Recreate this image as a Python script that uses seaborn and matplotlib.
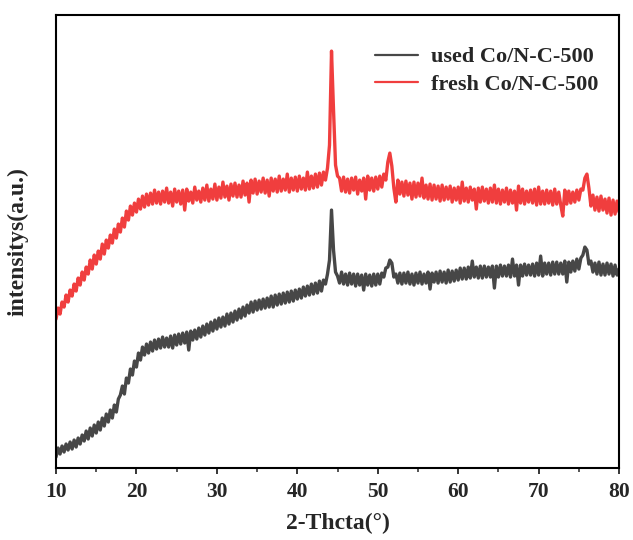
import numpy as np
import pandas as pd
import matplotlib
matplotlib.use("Agg")
import matplotlib.pyplot as plt
import seaborn as sns

# 2-theta grid: 10 to 80 deg, 0.25 deg step (4 points per degree row below)
two_theta = np.arange(10, 80.001, 0.25)

# fresh Co/N-C-500 (arbitrary units)
fresh = [
    221, 232, 226, 238,  233, 245, 238, 250,  244, 256, 249, 262,  255, 268, 260, 273,  # 10-13
    266, 280, 271, 285,  276, 289, 281, 296,  286, 300, 292, 305,  297, 311, 302, 316,  # 14-17
    308, 322, 313, 329,  320, 334, 325, 337,  328, 341, 331, 344,  333, 346, 335, 347,  # 18-21
    336, 350, 337, 348,  336, 349, 338, 352,  337, 348, 334, 351,  338, 349, 336, 350,  # 22-25
    330, 351, 339, 348,  337, 353, 340, 349,  338, 352, 340, 355,  339, 351, 341, 356,  # 26-29
    340, 353, 342, 358,  343, 354, 340, 356,  344, 357, 343, 355,  343, 359, 345, 357,  # 30-33
    338, 360, 347, 361,  346, 359, 348, 362,  347, 360, 344, 362,  349, 361, 348, 364,  # 34-37
    349, 361, 350, 366,  348, 362, 350, 363,  349, 364, 351, 362,  350, 368, 351, 364,  # 38-41
    352, 366, 353, 367,  355, 368, 360, 372,  395, 489, 430, 375,  364, 362, 349, 363,  # 42-45
    348, 361, 347, 362,  350, 363, 346, 360,  349, 362, 341, 364,  350, 362, 349, 363,  # 46-49
    351, 364, 353, 366,  360, 378, 387, 374,  352, 338, 360, 346,  358, 344, 359, 345,  # 50-53
    357, 341, 358, 343,  357, 344, 362, 342,  355, 341, 356, 340,  355, 341, 354, 339,  # 54-57
    355, 340, 353, 341,  354, 338, 352, 340,  353, 337, 358, 339,  352, 338, 353, 340,  # 58-61
    351, 331, 352, 338,  353, 339, 351, 337,  352, 338, 355, 337,  351, 336, 350, 338,  # 62-65
    352, 336, 350, 337,  349, 330, 354, 337,  351, 336, 349, 338,  350, 337, 351, 335,  # 66-69
    353, 336, 349, 336,  350, 337, 349, 335,  351, 336, 348, 335,  324, 350, 336, 349,  # 70-73
    337, 348, 338, 350,  340, 351, 350, 362,  366, 352, 334, 345,  330, 343, 329, 344,  # 74-77
    330, 341, 327, 342,  325, 340, 326, 339,  328,                                      # 78-80
]

# used Co/N-C-500
used = [
    83, 92, 86, 94,      88, 96, 90, 98,      91, 100, 93, 102,    96, 105, 99, 109,    # 10-13
    101, 112, 104, 115,  107, 118, 110, 122,  114, 126, 118, 130,  122, 135, 128, 141,  # 14-17
    145, 154, 146, 162,  157, 171, 165, 179,  173, 187, 180, 193,  185, 196, 187, 198,  # 18-21
    189, 200, 191, 201,  192, 203, 193, 202,  193, 204, 192, 205,  195, 206, 196, 207,  # 22-25
    197, 208, 190, 209,  200, 210, 201, 212,  203, 214, 205, 216,  207, 218, 209, 220,  # 26-29
    211, 222, 213, 223,  214, 226, 216, 227,  218, 229, 220, 231,  222, 233, 224, 235,  # 30-33
    227, 238, 228, 239,  230, 240, 231, 241,  232, 242, 233, 244,  233, 245, 235, 246,  # 34-37
    236, 247, 237, 248,  238, 249, 239, 250,  241, 251, 242, 253,  244, 254, 245, 256,  # 38-41
    246, 257, 247, 259,  249, 260, 256, 266,  280, 330, 290, 268,  264, 257, 268, 256,  # 42-45
    266, 255, 267, 256,  266, 254, 266, 255,  265, 250, 266, 255,  265, 254, 266, 255,  # 46-49
    266, 256, 267, 263,  272, 273, 280, 277,  263, 266, 257, 267,  256, 267, 257, 268,  # 50-53
    256, 266, 255, 267,  257, 268, 256, 266,  257, 268, 251, 267,  258, 268, 257, 269,  # 54-57
    258, 268, 257, 270,  258, 269, 259, 270,  260, 272, 261, 272,  261, 273, 262, 279,  # 58-61
    263, 273, 262, 274,  262, 274, 263, 273,  263, 274, 252, 274,  263, 275, 264, 274,  # 62-65
    264, 275, 263, 281,  264, 275, 255, 275,  264, 276, 265, 275,  265, 276, 264, 277,  # 66-69
    265, 284, 264, 277,  266, 277, 265, 278,  266, 278, 266, 277,  266, 279, 258, 278,  # 70-73
    268, 279, 269, 281,  271, 282, 285, 293,  290, 276, 279, 268,  277, 266, 278, 265,  # 74-77
    276, 265, 277, 266,  276, 264, 275, 265,  271,                                      # 78-80
]

labels = ["used Co/N-C-500", "fresh Co/N-C-500"]
colors = ["#474747", "#F03E3E"]
x_ticks = [10, 20, 30, 40, 50, 60, 70, 80]

df = pd.DataFrame({"two_theta": two_theta, "used": used, "fresh": fresh})

sns.set_theme(style="ticks")
plt.rcParams["font.family"] = ["Liberation Serif", "DejaVu Serif"]
plt.rcParams["font.weight"] = "bold"

fig = plt.figure(figsize=(6.33, 5.40), dpi=100)
ax = fig.add_axes([0.0885, 0.1333, 0.8895, 0.8387])

sns.lineplot(data=df, x="two_theta", y="used", color=colors[0], lw=2.4,
             label=labels[0], ax=ax)
sns.lineplot(data=df, x="two_theta", y="fresh", color=colors[1], lw=2.4,
             label=labels[1], ax=ax)

ax.set_xlim(10, 80)
ax.set_ylim(72, 525)
ax.set_xticks(x_ticks)
ax.set_xticks(range(15, 80, 10), minor=True)
ax.set_yticks([])
ax.tick_params(axis="x", which="major", direction="out", length=4, width=1.3,
               labelsize=15.5, pad=6)
ax.tick_params(axis="x", which="minor", direction="out", length=3, width=1.1)
for lab in ax.get_xticklabels():
    lab.set_fontweight("bold")
for sp in ax.spines.values():
    sp.set_visible(True)
    sp.set_linewidth(1.5)
    sp.set_color("black")

ax.set_xlabel("2-Thcta(°)", fontsize=17, fontweight="bold", labelpad=8)
ax.set_ylabel("intensitys(a.u.)", fontsize=17, fontweight="bold", labelpad=20)

leg = ax.legend(loc="upper right", bbox_to_anchor=(0.963, 0.93), frameon=False,
                fontsize=16, handlelength=1.9, handletextpad=0.6,
                labelspacing=0.3, borderpad=0, borderaxespad=0)
for t in leg.get_texts():
    t.set_fontweight("bold")
for h in leg.get_lines():
    h.set_linewidth(1.6)

fig.savefig("out.png", dpi=100)
